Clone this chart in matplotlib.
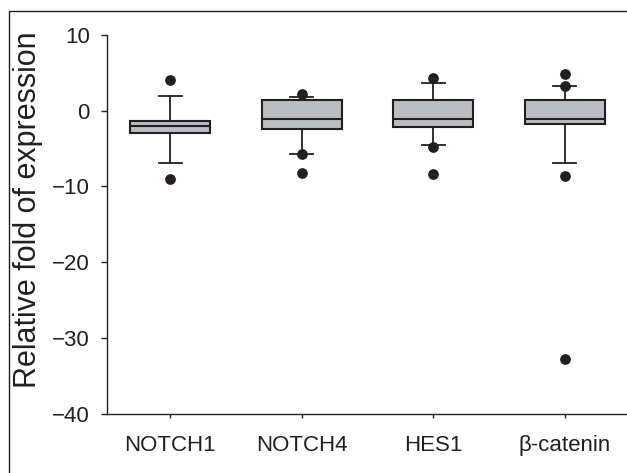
import matplotlib
matplotlib.use("Agg")
import matplotlib.pyplot as plt
from matplotlib.patches import Rectangle

plt.rcParams['font.family'] = ['Liberation Sans', 'DejaVu Sans']

categories = ["NOTCH1", "NOTCH4", "HES1", "β-catenin"]
q1 = [-2.95, -2.47, -2.16, -1.77]
med = [-2.07, -1.07, -1.10, -1.10]
q3 = [-1.37, 1.44, 1.44, 1.44]
whislo = [-6.9, -5.76, -4.57, -6.9]
whishi = [1.96, 1.83, 3.64, 3.24]
fliers = [[4.03, -9.06], [2.15, -5.76, -8.27], [4.3, -4.76, -8.4], [4.78, 3.24, -8.6, -32.8]]

yticks = [10, 0, -10, -20, -30, -40]

W, H = 627, 473
fig = plt.figure(figsize=(W / 100, H / 100), dpi=100)
ax = fig.add_axes([107 / W, 1 - 414 / H, (W - 107) / W, (414 - 34.7) / H])

stats = []
for i, c in enumerate(categories):
    stats.append(dict(label=c, q1=q1[i], med=med[i], q3=q3[i],
                      whislo=whislo[i], whishi=whishi[i], fliers=fliers[i]))

edge = '#231f20'
ax.bxp(stats, positions=[1, 2, 3, 4], widths=0.608, capwidths=0.175,
       patch_artist=True, showfliers=True,
       boxprops=dict(facecolor='#bcbdc1', edgecolor=edge, linewidth=1.5),
       medianprops=dict(color=edge, linewidth=1.5),
       whiskerprops=dict(color=edge, linewidth=1.3),
       capprops=dict(color=edge, linewidth=1.3),
       flierprops=dict(marker='o', markerfacecolor=edge, markeredgecolor=edge,
                       markersize=6.7, linestyle='none'))

ax.set_xlim(1 - 63 / 131.5, 4 + (W - 565) / 131.5)
ax.set_ylim(-40, 10)
ax.set_yticks(yticks)
ax.set_yticklabels([str(t).replace('-', '\u2212') for t in yticks])
ax.set_xticks([1, 2, 3, 4])
ax.set_xticklabels(categories)

for s in ['top', 'right']:
    ax.spines[s].set_visible(False)
for s in ['left', 'bottom']:
    ax.spines[s].set_color(edge)
    ax.spines[s].set_linewidth(1.0)

ax.tick_params(axis='y', direction='out', length=4.3, width=1.0, color=edge,
               labelsize=16, pad=8, labelcolor='#231f20')
ax.tick_params(axis='x', direction='out', length=3, width=1.0, color=edge,
               labelsize=16, pad=12, labelcolor='#231f20')

fig.text(28 / W, 1 - 210 / H, "Relative fold of expression", rotation=90,
         ha='center', va='center', fontsize=22, color='#231f20')

fig.patches.append(Rectangle((9 / W, -0.1), 2, 1.1 - 11 / H, transform=fig.transFigure,
                             fill=False, edgecolor=edge, linewidth=1.0))

fig.savefig("out.png", dpi=100)
